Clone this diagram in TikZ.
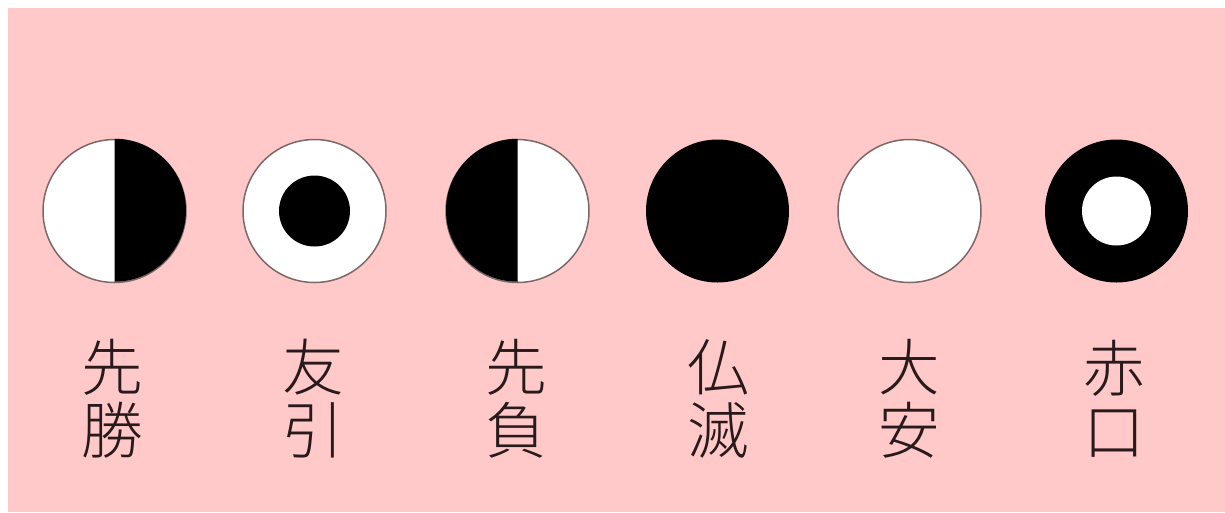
\documentclass[tikz,border=0pt]{standalone}
\usepackage{fontspec}
\newfontfamily\jpfont{Noto Sans CJK JP Light}
\usetikzlibrary{positioning}
\definecolor{bgpink}{RGB}{255,201,201}
\definecolor{rimgray}{RGB}{125,104,104}
\definecolor{inkbrown}{RGB}{40,26,26}
\tikzset{
  disc/.style={circle, draw=rimgray, line width=0.15mm, fill=white, minimum size=14.3mm, inner sep=0pt},
  blackdisc/.style={circle, fill=black, minimum size=14.3mm, inner sep=0pt},
  innerdot/.style={circle, fill=black, minimum size=7.1mm, inner sep=0pt},
  innerhole/.style={circle, fill=white, minimum size=6.9mm, inner sep=0pt},
  dayname/.style={font=\jpfont\fontsize{17.5}{17.9}\selectfont, text=inkbrown, align=center, inner sep=0pt}
}

\begin{document}
\begin{tikzpicture}[x=0.1mm,y=0.1mm]
  \useasboundingbox (0,0) rectangle (1225,512);
  \fill[bgpink] (8,0) rectangle (1225,504);
  % circles
  \node[disc] (sensho) at (114.5,301) {};
  \node[disc] (tomobiki) at (314.5,301) {};
  \node[disc] (senbu) at (517.5,301) {};
  \node[blackdisc] (butsumetsu) at (717.5,301) {};
  \node[disc] (taian) at (909.5,301) {};
  \node[blackdisc] (shakko) at (1116.5,301) {};
  \fill[black] (sensho.north) arc[start angle=90, end angle=-90, radius=7.15mm] -- cycle;
  \fill[black] (senbu.north) arc[start angle=90, end angle=270, radius=7.15mm] -- cycle;
  \node[innerdot] (tomobikidot) at (tomobiki.center) {};
  \node[innerhole] (shakkohole) at (shakko.center) {};
  % names
  \node[dayname] (senshotxt) at (112,113) {先\\勝};
  \node[dayname] (tomobikitxt) at (313,113) {友\\引};
  \node[dayname] (senbutxt) at (516,113) {先\\負};
  \node[dayname] (butsumetsutxt) at (718,113) {仏\\滅};
  \node[dayname] (taiantxt) at (909,113) {大\\安};
  \node[dayname] (shakkotxt) at (1114,113) {赤\\口};
\end{tikzpicture}
\end{document}
